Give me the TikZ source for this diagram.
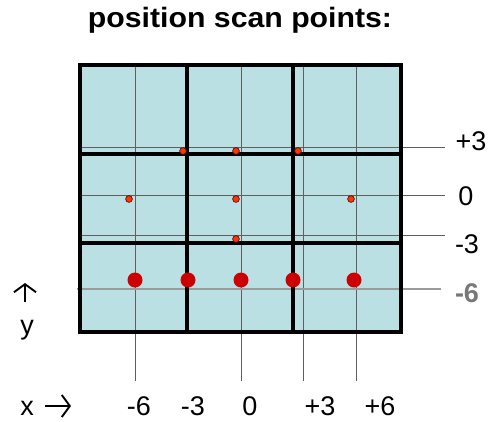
\documentclass[tikz,border=0pt]{standalone}
\usepackage{fontspec}
\setmainfont{Liberation Sans}
\usetikzlibrary{positioning, arrows.meta}
\definecolor{scanbox}{RGB}{186, 224, 227}
\definecolor{bigdot}{RGB}{204, 0, 0}
\definecolor{smalldot}{RGB}{250, 55, 0}
\definecolor{griddark}{RGB}{95, 95, 95}
\definecolor{axisgrey}{RGB}{155, 155, 155}
\definecolor{labelgrey}{RGB}{120, 120, 120}

\begin{document}
\begin{tikzpicture}[x=1pt, y=-1pt,
		lbl/.style={anchor=base, inner sep=0pt, font=\fontsize{27}{30}\selectfont},
		fineline/.style={griddark, line width=0.9pt},
		cellline/.style={black, line width=3.6pt},
		spot/.style={fill=smalldot, draw=black!70!red, line width=0.6pt},
		bigspot/.style={fill=bigdot},
		dirarrow/.style={line width=1.9pt, -{Straight Barb[length=8pt, width=22pt, line width=1.9pt]}}]
			\useasboundingbox (0, 0) rectangle (490, 421);
			\def\bl{80}
			\def\br{401}
			\def\bt{65}
			\def\bb{332}
			
			\fill[scanbox] (\bl, \bt) rectangle (\br, \bb);
			
			% thin scan lines
			\foreach \x in {135, 241, 303, 356} {
				\draw[fineline] (\x, \bt) -- (\x, 381);
			}
			\foreach \y in {147, 195, 235} {
				\draw[fineline] (\bl, \y) -- (445, \y);
			}
			\draw[axisgrey, line width=1.3pt] (77, 289) -- (441, 289);
			
			% cells
			\draw[cellline] (\bl, \bt) rectangle (\br, \bb);
			\foreach \x in {187, 293} {
				\draw[cellline] (\x, \bt) -- (\x, \bb);
			}
			\foreach \y in {154, 243} {
				\draw[cellline] (\bl, \y) -- (\br, \y);
			}
			
			% scan points
			\foreach \x/\y in {183/151, 236/151, 298/151, 129/199, 236/199, 351/199, 236/239} {
				\fill[spot] (\x, \y) circle (3.4);
			}
			\foreach \x in {135, 188, 241, 293, 354} {
				\fill[bigspot] (\x, 280) circle (7.5);
			}
			
			\node[font=\bfseries\fontsize{28}{32}\selectfont, anchor=base, xscale=1.08] (title) at (240, 27) {position scan points:};
			
			\node[lbl] (yp3) at (471, 150) {+3};
			\node[lbl] (y0) at (466, 205) {0};
			\node[lbl] (ym3) at (467, 253) {-3};
			\node[lbl, labelgrey, font=\bfseries\fontsize{27}{30}\selectfont] (ym6) at (467, 302) {-6};
			
			\node[lbl] (xm6) at (139, 415) {-6};
			\node[lbl] (xm3) at (193, 415) {-3};
			\node[lbl] (x0) at (250, 415) {0};
			\node[lbl] (xp3) at (320, 415) {+3};
			\node[lbl] (xp6) at (380, 415) {+6};
			
			\node[lbl] (xname) at (27, 415) {x};
			\node[lbl] (yname) at (27, 334) {y};
			
			% direction arrows
			\coordinate (xtail) at (45, 406);
			\coordinate (xhead) at (71, 406);
			\coordinate (ytail) at (25, 302);
			\coordinate (yhead) at (25, 283);
			\draw[dirarrow] (xtail) -- (xhead);
			\draw[dirarrow] (ytail) -- (yhead);
			
		\end{tikzpicture}
\end{document}
